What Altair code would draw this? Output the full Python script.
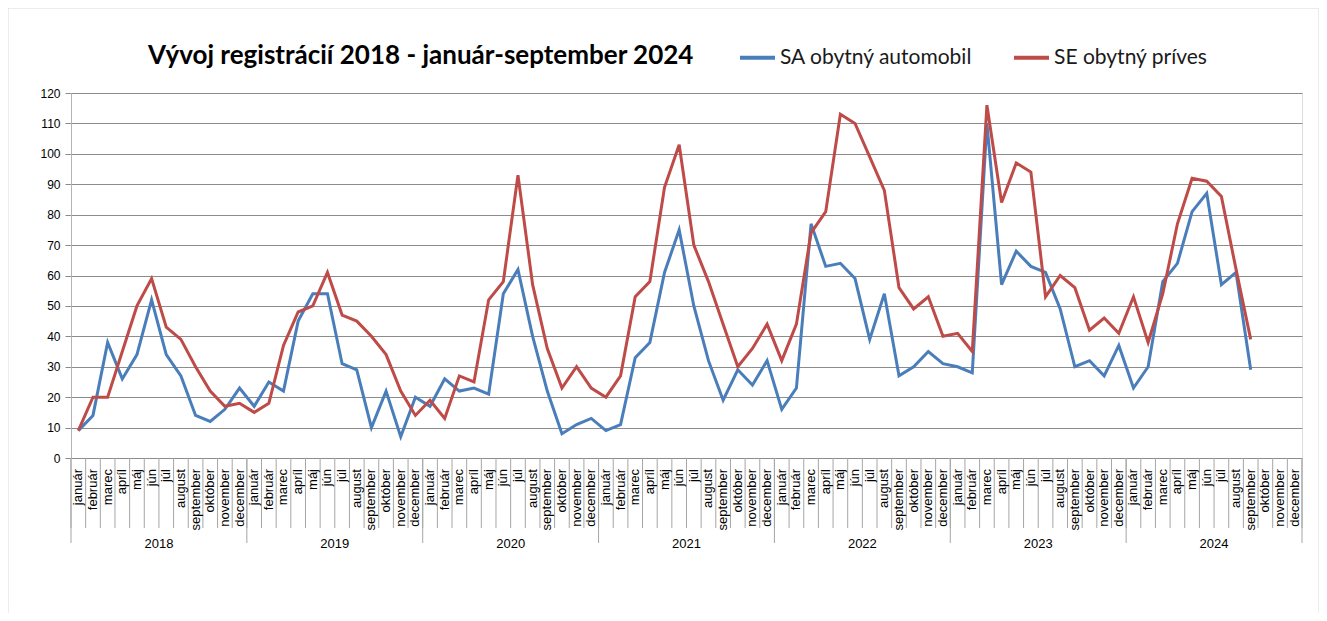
import altair as alt
import pandas as pd

years = ["2018", "2019", "2020", "2021", "2022", "2023", "2024"]
months = ["január", "február", "marec", "apríl", "máj", "jún", "júl", "august",
          "september", "október", "november", "december"]

series_names = ["SA obytný automobil", "SE obytný príves"]

sa_values = [
    9, 14, 38, 26, 34, 52, 34, 27, 14, 12, 16, 23,      # 2018
    17, 25, 22, 45, 54, 54, 31, 29, 10, 22, 7, 20,      # 2019
    17, 26, 22, 23, 21, 54, 62, 40, 22, 8, 11, 13,      # 2020
    9, 11, 33, 38, 61, 75, 50, 32, 19, 29, 24, 32,      # 2021
    16, 23, 77, 63, 64, 59, 39, 54, 27, 30, 35, 31,     # 2022
    30, 28, 110, 57, 68, 63, 61, 49, 30, 32, 27, 37,    # 2023
    23, 30, 58, 64, 81, 87, 57, 61, 29,                 # 2024
]
se_values = [
    9, 20, 20, 35, 50, 59, 43, 39, 30, 22, 17, 18,      # 2018
    15, 18, 37, 48, 50, 61, 47, 45, 40, 34, 22, 14,     # 2019
    19, 13, 27, 25, 52, 58, 93, 57, 36, 23, 30, 23,     # 2020
    20, 27, 53, 58, 89, 103, 70, 58, 44, 30, 36, 44,    # 2021
    32, 44, 74, 81, 113, 110, 99, 88, 56, 49, 53, 40,   # 2022
    41, 35, 116, 84, 97, 94, 53, 60, 56, 42, 46, 41,    # 2023
    53, 38, 54, 77, 92, 91, 86, 62, 39,                 # 2024
]

title_text = "Vývoj registrácií 2018 - január-september 2024"
y_ticks = list(range(0, 121, 10))

BLUE = "#4A7EBB"
RED = "#BE4B48"

# ---- tables built from the arrays ----
rows = []
for name, vals in zip(series_names, [sa_values, se_values]):
    for i, v in enumerate(vals):
        rows.append({"i": i, "v": v, "s": name})
lines_df = pd.DataFrame(rows)

n_cat = len(years) * len(months)
cat_df = pd.DataFrame({"i": list(range(n_cat)),
                       "label": [months[k % 12] for k in range(n_cat)]})
bound_df = pd.DataFrame({"b": [k - 0.5 for k in range(n_cat + 1)]})
ybound_df = pd.DataFrame({"b": [k * 12 - 0.5 for k in range(len(years) + 1)]})
year_df = pd.DataFrame({"c": [k * 12 + 5.5 for k in range(len(years))], "label": years})
one = pd.DataFrame({"t": [title_text]})

W, H = 1231, 365
xscale = alt.Scale(domain=[-0.5, n_cat - 0.5], nice=False, zero=False)

border = alt.Chart(one).mark_rect(fillOpacity=0, stroke="#d9d9d9", strokeWidth=1).encode(
    x=alt.value(-63), x2=alt.value(1248), y=alt.value(-85), y2=alt.value(545)
)

title = alt.Chart(one).mark_text(
    align="left", baseline="alphabetic", font="Lato", fontSize=26, fontWeight="bold", color="#000000"
).encode(x=alt.value(77), y=alt.value(-29), text="t:N")

lines = alt.Chart(lines_df).mark_line(strokeWidth=3).encode(
    x=alt.X("i:Q", scale=xscale, axis=None),
    y=alt.Y("v:Q", scale=alt.Scale(domain=[0, 120], nice=False),
            axis=alt.Axis(values=y_ticks, title=None, grid=True, gridColor="#8c8c8c",
                          gridWidth=1, domainColor="#b3b3b3", tickColor="#8c8c8c",
                          tickSize=6, labelPadding=5, labelFont="Liberation Sans",
                          labelFontSize=12, labelColor="#000000")),
    color=alt.Color("s:N", scale=alt.Scale(domain=series_names, range=[BLUE, RED]),
                    legend=alt.Legend(orient="none", legendX=667, legendY=-55,
                                      direction="horizontal", title=None,
                                      symbolType="stroke", symbolSize=1225,
                                      symbolStrokeWidth=4, labelFont="Lato",
                                      labelFontSize=21, labelColor="#1a1a1a",
                                      columnPadding=33, labelOffset=3, padding=0,
                                      labelLimit=400)),
)

month_sep = alt.Chart(bound_df).mark_rule(color="#a6a6a6", strokeWidth=1).encode(
    x=alt.X("b:Q", scale=xscale, axis=None), y=alt.value(H), y2=alt.value(H + 70)
)
year_sep = alt.Chart(ybound_df).mark_rule(color="#a6a6a6", strokeWidth=1).encode(
    x=alt.X("b:Q", scale=xscale, axis=None), y=alt.value(H), y2=alt.value(H + 85)
)
month_text = alt.Chart(cat_df).mark_text(
    angle=270, align="right", baseline="middle", font="Liberation Sans", fontSize=13, color="#000000"
).encode(x=alt.X("i:Q", scale=xscale, axis=None), y=alt.value(H + 11), text="label:N")
year_text = alt.Chart(year_df).mark_text(
    align="center", baseline="middle", font="Liberation Sans", fontSize=13, color="#000000"
).encode(x=alt.X("c:Q", scale=xscale, axis=None), y=alt.value(H + 86), text="label:N")

chart = alt.layer(border, month_sep, year_sep, month_text, year_text, lines, title).properties(
    width=W, height=H,
    autosize=alt.AutoSizeParams(type="none"),
    padding={"left": 63, "top": 85, "right": 17, "bottom": 155},
).configure_view(strokeWidth=0).configure(background="white")

chart.save("out.html", embed_options={"renderer": "svg", "actions": False})
